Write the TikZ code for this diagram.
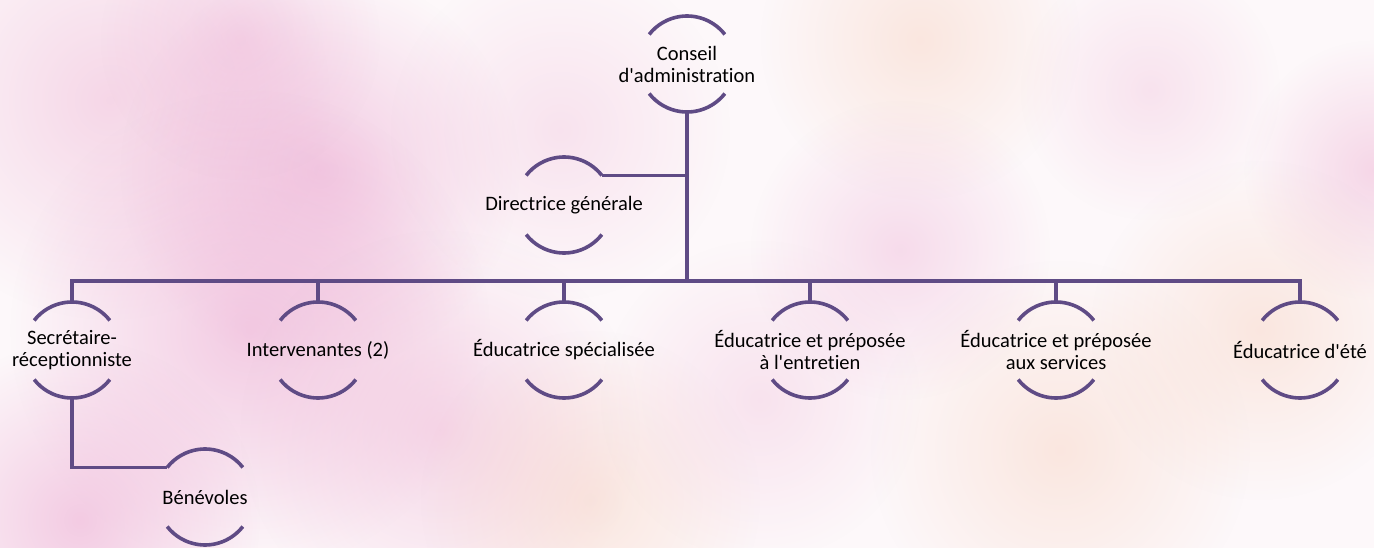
\documentclass[tikz,border=0pt]{standalone}
\usepackage{fontspec}
\setmainfont{Carlito}[Ligatures={NoCommon}]
\usetikzlibrary{fadings}
\definecolor{orgline}{HTML}{5F4B85}
\definecolor{blobpink}{HTML}{EBA6D0}
\definecolor{blobrose}{HTML}{F0BBD8}
\definecolor{blobpeach}{HTML}{F5C6AE}
\definecolor{bgbase}{HTML}{FDF8FA}
\tikzfading[name=softblob, inner color=transparent!45, outer color=transparent!100]
\tikzfading[name=faintblob, inner color=transparent!65, outer color=transparent!100]
\tikzset{
  ring/.style={circle, minimum size=96pt, inner sep=0pt, outer sep=0pt, draw=none},
  lbl/.style={align=center, font=\fontsize{20.5}{22}\selectfont, text=black, inner sep=0pt},
  conn/.style={draw=orgline, line width=3.6pt},
  arcline/.style={draw=orgline, line width=3.6pt},
  blob/.style={path fading=softblob, draw=none},
  fblob/.style={path fading=faintblob, draw=none}
}
\newcommand{\orgnode}[4]{%
  \node[ring] (#1) at (#2,#3) {};
  \node[lbl] (#1-t) at (#1.center) {#4};
  \draw[arcline] (#1.38) arc[start angle=38, end angle=142, radius=48pt];
  \draw[arcline] (#1.-38) arc[start angle=-38, end angle=-142, radius=48pt];
}
\begin{document}
\begin{tikzpicture}[x=1pt,y=1pt]
\useasboundingbox (0,0) rectangle (1374,-548);
% background
\fill[bgbase] (0,0) rectangle (1374,-548);
\fill[blobrose, blob] (110,-100) circle (220);
\fill[blobpink, blob] (320,-170) circle (200);
\fill[blobpink, blob] (250,-330) circle (240);
\fill[blobrose, blob] (440,-430) circle (200);
\fill[blobpink, blob] (80,-520) circle (180);
\fill[blobpeach, fblob] (590,-500) circle (170);
\fill[blobrose, fblob] (560,-130) circle (170);
\fill[blobpeach, fblob] (920,-40) circle (160);
\fill[blobrose, fblob] (760,-400) circle (160);
\fill[blobpeach, fblob] (1060,-450) circle (190);
\fill[blobrose, blob] (1374,-170) circle (130);
\fill[blobpeach, fblob] (1260,-330) circle (170);
\fill[blobrose, fblob] (1150,-90) circle (130);
\fill[blobpink, fblob] (240,-40) circle (140);
\fill[blobpink, fblob] (900,-250) circle (150);
% nodes
\orgnode{cons}{687}{-64}{Conseil\\d\textquotesingle administration}
\orgnode{dir}{564}{-205}{Directrice générale}
\orgnode{sec}{72}{-350}{Secrétaire-\\réceptionniste}
\orgnode{int}{318}{-350}{Intervenantes (2)}
\orgnode{spe}{564}{-350}{Éducatrice spécialisée}
\orgnode{ent}{810}{-350}{Éducatrice et préposée\\à l\textquotesingle entretien}
\orgnode{ser}{1056}{-350}{Éducatrice et préposée\\aux services}
\orgnode{ete}{1300}{-350}{Éducatrice d\textquotesingle été}
\orgnode{ben}{205}{-497}{Bénévoles}
% connectors
\coordinate (bus) at (0,-281);
\draw[conn] (cons.south) -- (cons.south |- bus);
\draw[conn] (dir.38) -- (dir.38 -| cons.south);
\draw[conn, line cap=rect] (sec.north |- bus) -- (ete.north |- bus);
\draw[conn] (sec.north) -- (sec.north |- bus);
\draw[conn] (int.north) -- (int.north |- bus);
\draw[conn] (spe.north) -- (spe.north |- bus);
\draw[conn] (ent.north) -- (ent.north |- bus);
\draw[conn] (ser.north) -- (ser.north |- bus);
\draw[conn] (ete.north) -- (ete.north |- bus);
\draw[conn] (sec.south) |- (ben.142);
\end{tikzpicture}
\end{document}
